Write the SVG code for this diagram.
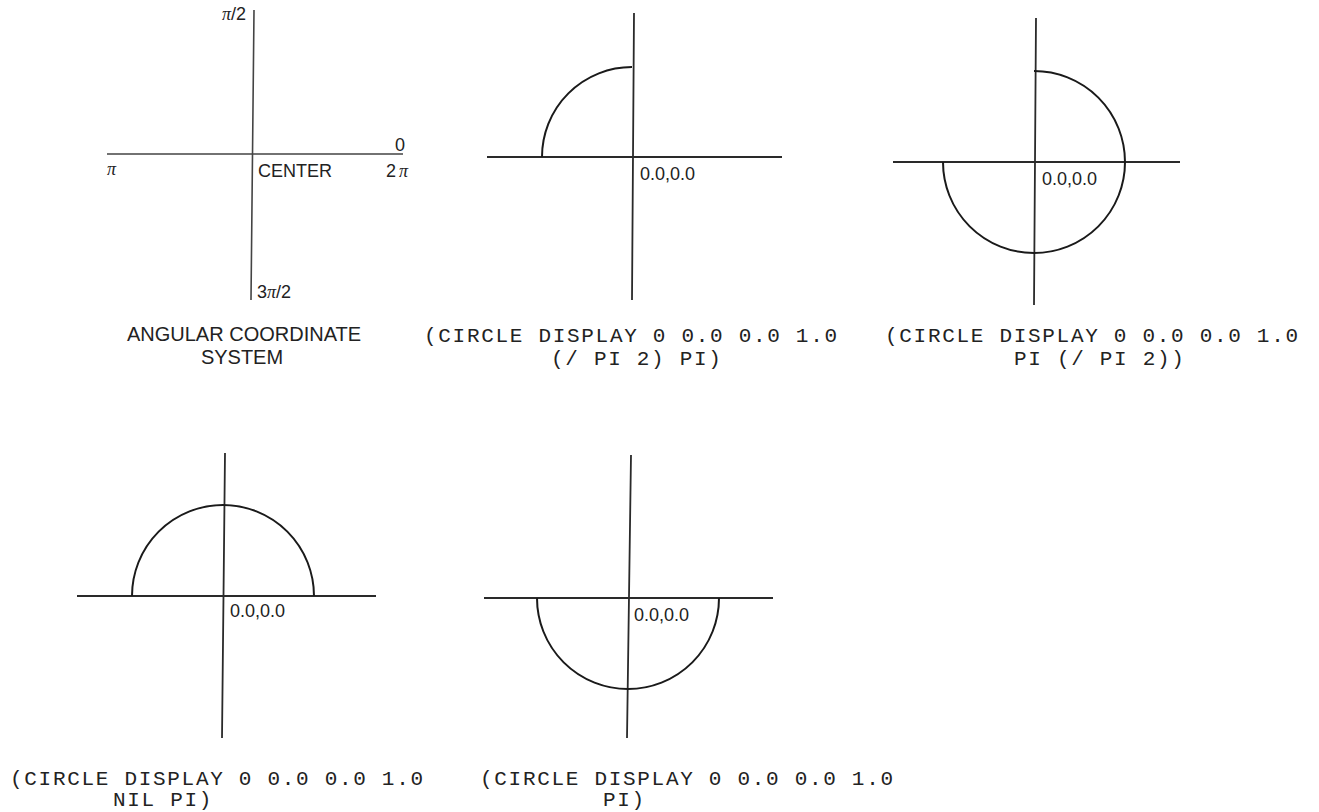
<svg xmlns="http://www.w3.org/2000/svg" width="1319" height="812" viewBox="0 0 1319 812">
<style>
.ax{stroke:#2a2a2a;stroke-width:1.8;fill:none;stroke-linecap:butt}
.ax1{stroke:#444;stroke-width:1.6;fill:none}
.arc{stroke:#1a1a1a;stroke-width:2;fill:none}
.lbl{font-family:"Liberation Sans",Arial,sans-serif;font-size:18px;fill:#222}
.pi{font-family:"Liberation Serif","Times New Roman",serif;font-style:italic}
.cap{font-family:"Liberation Sans",Arial,sans-serif;font-size:20px;fill:#222}
.code{font-family:"Liberation Mono","Courier New",monospace;font-size:21px;letter-spacing:1.7px;fill:#222}
</style>
<rect width="1319" height="812" fill="#ffffff"/>
<g id="panel-angular">
<path class="ax1" d="M107 154 H403 M254 10 L251 300"/>
<text class="lbl" x="222" y="20"><tspan class="pi">π</tspan>/2</text>
<text class="lbl" x="395" y="151">0</text>
<text class="lbl pi" x="107" y="175">π</text>
<text class="lbl" x="258" y="177">CENTER</text>
<text class="lbl" x="386" y="177">2<tspan class="pi" dx="3">π</tspan></text>
<text class="lbl" x="257" y="298">3<tspan class="pi">π</tspan>/2</text>
<text class="cap" x="244" y="341" text-anchor="middle">ANGULAR COORDINATE</text>
<text class="cap" x="242" y="364" text-anchor="middle">SYSTEM</text>
</g>
<g id="panel-quarter">
<path class="ax" d="M487 157 H782 M634 13 L632 300"/>
<path class="arc" d="M632 67 A90 90 0 0 0 542 157"/>
<text class="lbl" x="640" y="180">0.0,0.0</text>
<text class="code" x="424" y="342">(CIRCLE DISPLAY 0 0.0 0.0 1.0</text>
<text class="code" x="551" y="365">(/ PI 2) PI)</text>
</g>
<g id="panel-threequarter">
<path class="ax" d="M893 162 H1180 M1036 18 L1034 305"/>
<path class="arc" d="M943 162 A91 91 0 1 0 1034 71"/>
<text class="lbl" x="1042" y="185">0.0,0.0</text>
<text class="code" x="885" y="342">(CIRCLE DISPLAY 0 0.0 0.0 1.0</text>
<text class="code" x="1014" y="365">PI (/ PI 2))</text>
</g>
<g id="panel-upperhalf">
<path class="ax" d="M77 596 H376 M225 453 L222 738"/>
<path class="arc" d="M132 596 A91 91 0 0 1 314 596"/>
<text class="lbl" x="230" y="617">0.0,0.0</text>
<text class="code" x="10" y="785">(CIRCLE DISPLAY 0 0.0 0.0 1.0</text>
<text class="code" x="113" y="806">NIL PI)</text>
</g>
<g id="panel-lowerhalf">
<path class="ax" d="M484 598 H773 M631 455 L627 738"/>
<path class="arc" d="M537 598 A91 91 0 0 0 719 598"/>
<text class="lbl" x="634" y="621">0.0,0.0</text>
<text class="code" x="480" y="785">(CIRCLE DISPLAY 0 0.0 0.0 1.0</text>
<text class="code" x="603" y="806">PI)</text>
</g>
<g id="connectors"></g>
</svg>
